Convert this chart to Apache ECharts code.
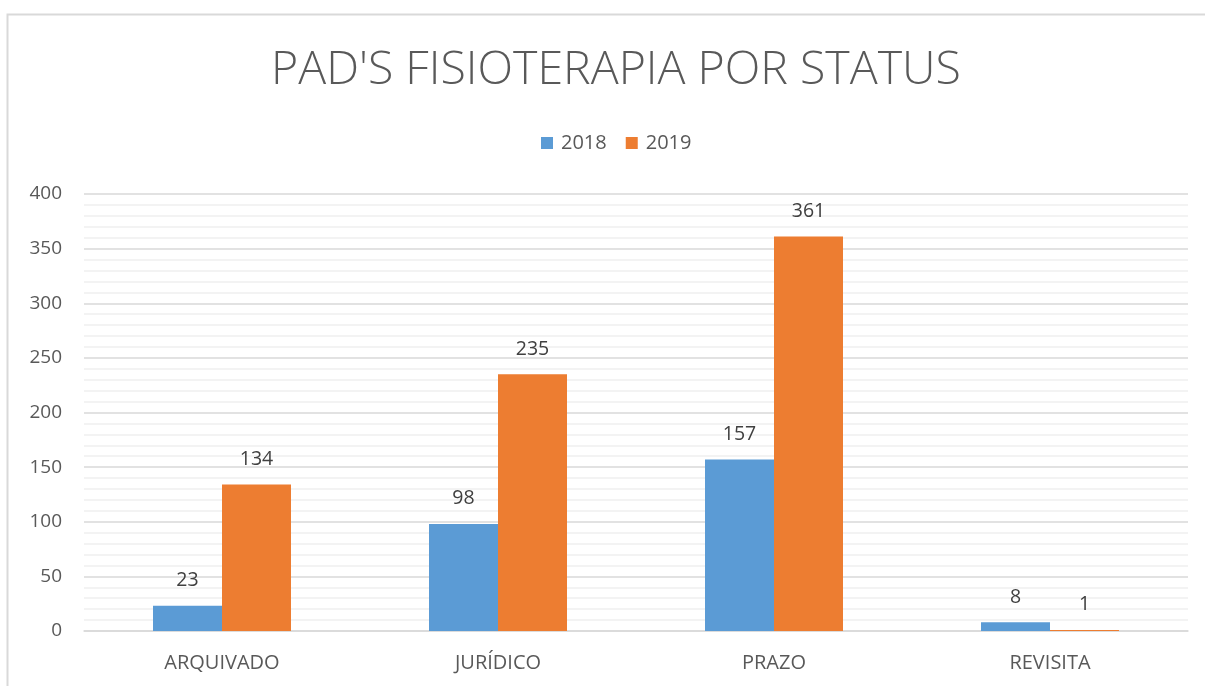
<!DOCTYPE html>
<html>
<head>
<meta charset="utf-8">
<title>PAD'S FISIOTERAPIA POR STATUS</title>
<script src="https://cdn.jsdelivr.net/npm/echarts@6/dist/echarts.min.js"></script>
<style>
  html, body { margin: 0; padding: 0; background: #fff; }
  #chart { width: 1205px; height: 686px; }
</style>
</head>
<body>
<div id="chart"></div>
<script>
const categories = ["ARQUIVADO", "JURÍDICO", "PRAZO", "REVISITA"];
const values2018 = [23, 98, 157, 8];
const values2019 = [134, 235, 361, 1];

const font = "'Open Sans', 'Liberation Sans', sans-serif";
const chart = echarts.init(document.getElementById("chart"));

chart.setOption({
  animation: false,
  textStyle: { fontFamily: font },
  graphic: [
    {
      type: "rect",
      shape: { x: 7.5, y: 14.5, width: 1210, height: 700 },
      style: { fill: "none", stroke: "#d9d9d9", lineWidth: 2 },
      silent: true,
    },
  ],
  title: {
    text: "PAD'S FISIOTERAPIA POR STATUS",
    left: 266,
    top: 42,
    textStyle: {
      fontFamily: font,
      fontWeight: 300,
      fontSize: 46.5,
      color: "#595959",
    },
  },
  legend: {
    top: 128,
    left: 536,
    itemWidth: 12,
    itemHeight: 12,
    itemGap: 19,
    icon: "rect",
    textStyle: { fontSize: 20, color: "#595959", padding: [0, 0, 0, 3] },
    data: ["2018", "2019"],
  },
  grid: {
    left: 84,
    right: 17,
    top: 194,
    bottom: 55,
  },
  xAxis: {
    type: "category",
    data: categories,
    axisLine: { show: true, lineStyle: { color: "#d9d9d9", width: 1.5 } },
    axisTick: { show: false },
    axisLabel: { fontSize: 20, color: "#595959", margin: 22 },
  },
  yAxis: {
    type: "value",
    min: 0,
    max: 400,
    interval: 50,
    axisLine: { show: false },
    axisTick: { show: false },
    axisLabel: { fontSize: 19, color: "#595959", margin: 22 },
    splitLine: { lineStyle: { color: "#d9d9d9", width: 1.5 } },
    minorTick: { show: false, splitNumber: 5 },
    minorSplitLine: { show: true, lineStyle: { color: "#f0f0f0", width: 1.5 } },
  },
  series: [
    {
      name: "2018",
      type: "bar",
      data: values2018,
      barGap: "0%",
      barCategoryGap: "50%",
      itemStyle: { color: "#5B9BD5" },
      label: {
        show: true,
        position: "top",
        distance: 15,
        fontSize: 19.5,
        color: "#404040",
      },
    },
    {
      name: "2019",
      type: "bar",
      data: values2019,
      barGap: "0%",
      barCategoryGap: "50%",
      itemStyle: { color: "#ED7D31" },
      label: {
        show: true,
        position: "top",
        distance: 15,
        fontSize: 19.5,
        color: "#404040",
      },
    },
  ],
});
</script>
</body>
</html>
